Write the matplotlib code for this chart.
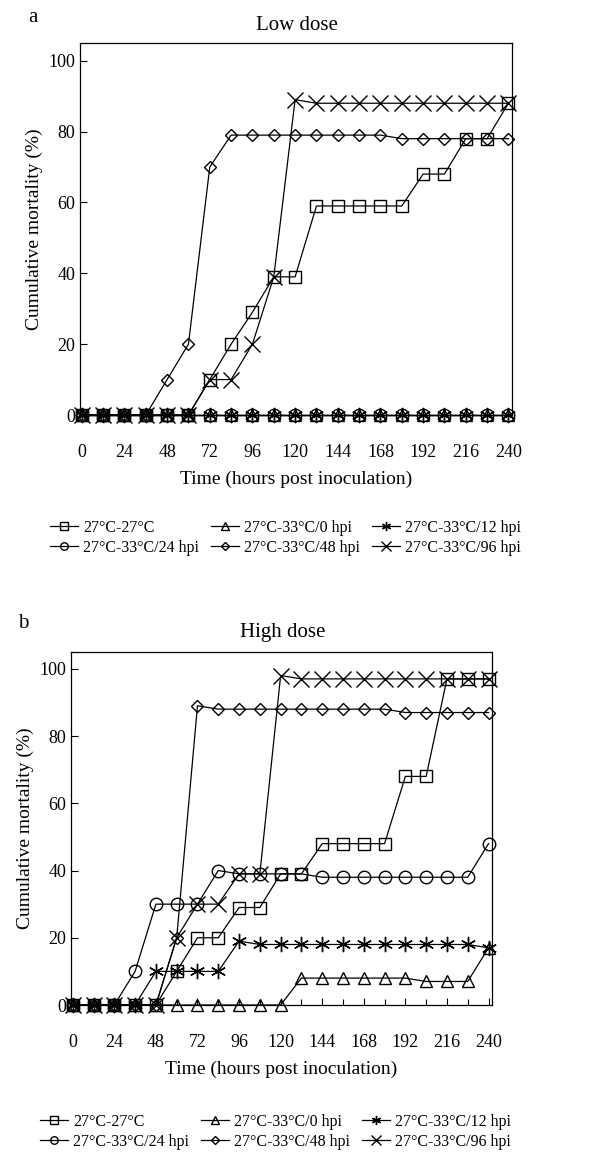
import matplotlib
matplotlib.use("Agg")
import matplotlib.pyplot as plt
from matplotlib.ticker import MultipleLocator

plt.rcParams['font.family'] = ['Liberation Serif', 'DejaVu Serif']

hours = [0, 12, 24, 36, 48, 60, 72, 84, 96, 108, 120, 132, 144, 156, 168, 180, 192, 204, 216, 228, 240]
labels = ["27°C-27°C", "27°C-33°C/0 hpi", "27°C-33°C/12 hpi",
          "27°C-33°C/24 hpi", "27°C-33°C/48 hpi", "27°C-33°C/96 hpi"]

# Low dose
low_27_27 = [0, 0, 0, 0, 0, 0, 10, 20, 29, 39, 39, 59, 59, 59, 59, 59, 68, 68, 78, 78, 88]
low_0hpi  = [0] * 21
low_12hpi = [0] * 21
low_24hpi = [0] * 21
low_48hpi = [0, 0, 0, 0, 10, 20, 70, 79, 79, 79, 79, 79, 79, 79, 79, 78, 78, 78, 78, 78, 78]
low_96hpi = [0, 0, 0, 0, 0, 0, 10, 10, 20, 39, 89, 88, 88, 88, 88, 88, 88, 88, 88, 88, 88]

# High dose
high_27_27 = [0, 0, 0, 0, 0, 10, 20, 20, 29, 29, 39, 39, 48, 48, 48, 48, 68, 68, 97, 97, 97]
high_0hpi  = [0, 0, 0, 0, 0, 0, 0, 0, 0, 0, 0, 8, 8, 8, 8, 8, 8, 7, 7, 7, 17]
high_12hpi = [0, 0, 0, 0, 10, 10, 10, 10, 19, 18, 18, 18, 18, 18, 18, 18, 18, 18, 18, 18, 17]
high_24hpi = [0, 0, 0, 10, 30, 30, 30, 40, 39, 39, 39, 39, 38, 38, 38, 38, 38, 38, 38, 38, 48]
high_48hpi = [0, 0, 0, 0, 0, 20, 89, 88, 88, 88, 88, 88, 88, 88, 88, 88, 87, 87, 87, 87, 87]
high_96hpi = [0, 0, 0, 0, 0, 20, 30, 30, 39, 39, 98, 97, 97, 97, 97, 97, 97, 97, 97, 97, 97]

markers = ['s', '^', (6, 2, 0), 'o', 'D', 'x']
msizes = [9, 9, 11, 9, 6.5, 11]

fig = plt.figure(figsize=(6.10, 11.64), dpi=100)

def panel(rect, series, title, letter, letter_pos, title_pos, leg_anchor):
    ax = fig.add_axes(rect)
    handles = []
    for vals, m, ms, lab in zip(series, markers, msizes, labels):
        h, = ax.plot(hours, vals, color='black', lw=0.9, marker=m, ms=ms,
                     mfc='none', mec='black', mew=1.0, clip_on=False, label=lab)
        handles.append(h)
    ax.set_xlim(-1, 242)
    ax.set_ylim(0, 105)
    ax.set_xticks(hours[::2])
    ax.xaxis.set_minor_locator(MultipleLocator(12))
    ax.set_yticks([0, 20, 40, 60, 80, 100])
    ax.tick_params(axis='both', which='both', direction='in', top=False, right=False,
                   labelsize=13, width=0.8)
    ax.tick_params(axis='both', which='major', length=5)
    ax.tick_params(axis='x', which='minor', length=4)
    ax.tick_params(axis='x', pad=21)
    for s in ax.spines.values():
        s.set_linewidth(0.9)
    ax.set_ylabel("Cumulative mortality (%)", fontsize=14, labelpad=4)
    ax.set_xlabel("Time (hours post inoculation)", fontsize=14, labelpad=7)
    fig.text(title_pos[0], title_pos[1], title, fontsize=15, ha='center', va='center')
    fig.text(letter_pos[0], letter_pos[1], letter, fontsize=15, ha='left', va='center')
    order = [0, 3, 1, 4, 2, 5]
    fig.legend([handles[i] for i in order], [labels[i] for i in order],
               loc='center left', bbox_to_anchor=leg_anchor, ncol=3, frameon=False,
               fontsize=11.5, handlelength=1.75, handletextpad=0.3, columnspacing=0.75,
               labelspacing=0.25, markerscale=0.6, borderaxespad=0)
    return ax

panel([80/610, 1 - 415/1164, 432/610, 372/1164],
      [low_27_27, low_0hpi, low_12hpi, low_24hpi, low_48hpi, low_96hpi],
      "Low dose", "a", (28/610, 1 - 17/1164), (297/610, 1 - 25/1164),
      (44/610, 1 - 538/1164))

panel([71/610, 1 - 1005/1164, 421/610, 353/1164],
      [high_27_27, high_0hpi, high_12hpi, high_24hpi, high_48hpi, high_96hpi],
      "High dose", "b", (18/610, 1 - 623/1164), (283/610, 1 - 632/1164),
      (34/610, 1 - 1132/1164))

fig.savefig("out.png", dpi=100)
